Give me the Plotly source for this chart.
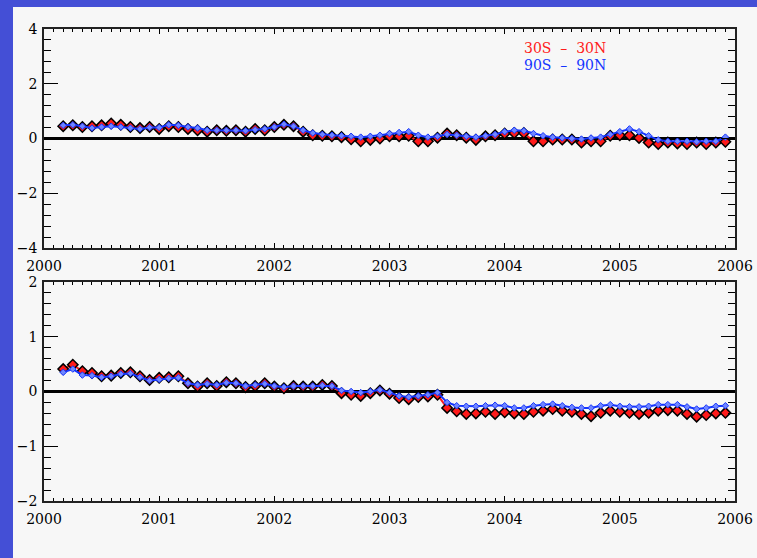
import plotly.graph_objects as go

# ---------------- data ----------------
years_start, years_end = 2000, 2006
# monthly samples, March 2000 .. December 2005 (month index from Jan 2000)
month_index = list(range(2, 72))
x_time = [2000 + m / 12 for m in month_index]

top_30s30n = [0.45, 0.48, 0.42, 0.45, 0.48, 0.55, 0.50, 0.42, 0.38, 0.42,
              0.35, 0.45, 0.42, 0.35, 0.30, 0.25, 0.30, 0.28, 0.30, 0.25, 0.35, 0.30,
              0.42, 0.50, 0.45, 0.25, 0.12, 0.10, 0.08, 0.05, -0.03, -0.10, -0.05, 0.00,
              0.08, 0.08, 0.10, -0.10, -0.10, 0.03, 0.18, 0.12, 0.03, -0.05, 0.08, 0.12,
              0.18, 0.20, 0.20, -0.10, -0.10, -0.04, -0.04, -0.04, -0.15, -0.10, -0.10, 0.10,
              0.12, 0.12, 0.02, -0.15, -0.20, -0.15, -0.18, -0.20, -0.15, -0.20, -0.15, -0.12]
top_90s90n = [0.48, 0.50, 0.45, 0.38, 0.42, 0.45, 0.42, 0.38, 0.35, 0.40,
              0.40, 0.50, 0.48, 0.42, 0.38, 0.30, 0.30, 0.30, 0.30, 0.28, 0.32, 0.35,
              0.42, 0.52, 0.45, 0.30, 0.20, 0.15, 0.12, 0.10, 0.08, 0.05, 0.08, 0.12,
              0.18, 0.22, 0.25, 0.12, 0.05, 0.08, 0.15, 0.12, 0.08, 0.05, 0.10, 0.15,
              0.25, 0.30, 0.28, 0.18, 0.10, 0.05, 0.02, 0.00, -0.02, 0.02, 0.05, 0.15,
              0.25, 0.35, 0.25, 0.10, -0.05, -0.10, -0.10, -0.10, -0.12, -0.10, -0.10, 0.05]

bot_30s30n = [0.41, 0.49, 0.37, 0.34, 0.28, 0.29, 0.34, 0.35, 0.28, 0.21,
              0.25, 0.26, 0.28, 0.15, 0.09, 0.15, 0.10, 0.17, 0.15, 0.08, 0.10, 0.15,
              0.09, 0.06, 0.10, 0.09, 0.09, 0.12, 0.10, -0.03, -0.06, -0.08, -0.03, 0.02,
              -0.04, -0.12, -0.14, -0.10, -0.09, -0.06, -0.30, -0.36, -0.41, -0.40, -0.37, -0.41,
              -0.38, -0.40, -0.41, -0.37, -0.35, -0.32, -0.35, -0.37, -0.41, -0.45, -0.39, -0.35,
              -0.37, -0.39, -0.41, -0.39, -0.35, -0.34, -0.35, -0.41, -0.46, -0.43, -0.40, -0.39]
bot_90s90n = [0.35, 0.41, 0.30, 0.29, 0.26, 0.28, 0.32, 0.33, 0.26, 0.20,
              0.22, 0.24, 0.25, 0.15, 0.12, 0.14, 0.12, 0.16, 0.15, 0.10, 0.12, 0.14,
              0.10, 0.08, 0.10, 0.10, 0.10, 0.11, 0.10, 0.02, 0.00, -0.02, 0.00, 0.03,
              -0.02, -0.08, -0.10, -0.08, -0.06, -0.02, -0.20, -0.26, -0.27, -0.27, -0.26, -0.25,
              -0.26, -0.30, -0.30, -0.26, -0.24, -0.23, -0.26, -0.29, -0.30, -0.30, -0.26, -0.24,
              -0.27, -0.28, -0.28, -0.27, -0.24, -0.24, -0.24, -0.28, -0.32, -0.30, -0.27, -0.26]

year_ticks = [2000, 2001, 2002, 2003, 2004, 2005, 2006]
top_yticks = [-4, -2, 0, 2, 4]
bot_yticks = [-2, -1, 0, 1, 2]
legend_labels = ["30S\u00a0\u00a0\u2013\u00a0\u00a030N", "90S\u00a0\u00a0\u2013\u00a0\u00a090N"]

# ---------------- style ----------------
W, H = 757, 558
RED = "#ff1a1a"
BLUE = "#1434ff"
BG = "#f7f7f7"
BORDER = "#444fd6"
FONT = dict(family="DejaVu Serif", size=14, color="black")

fig = go.Figure()


def add_series(x, y, xa, ya):
    fig.add_trace(go.Scatter(
        x=x, y=y[0], xaxis=xa, yaxis=ya, mode="lines+markers",
        line=dict(color=RED, width=2),
        marker=dict(symbol="diamond", size=8, color=RED,
                    line=dict(color="black", width=1.5)),
        showlegend=False))
    fig.add_trace(go.Scatter(
        x=x, y=y[1], xaxis=xa, yaxis=ya, mode="lines+markers",
        line=dict(color=BLUE, width=2),
        marker=dict(symbol="diamond", size=5, color="#6f86ff",
                    line=dict(color=BLUE, width=1)),
        showlegend=False))


add_series(x_time, (top_30s30n, top_90s90n), "x", "y")
add_series(x_time, (bot_30s30n, bot_90s90n), "x2", "y2")

xdom = [44 / W, 735 / W]
top_dom = [(H - 248) / H, (H - 29) / H]
bot_dom = [(H - 501) / H, (H - 282) / H]

xaxis_common = dict(
    range=[years_start, years_end], domain=xdom,
    tickvals=year_ticks, ticktext=[str(v) for v in year_ticks],
    ticks="inside", ticklen=5, tickwidth=1, tickcolor="black",
    minor=dict(dtick=1 / 12, tick0=2000, ticks="inside", ticklen=3,
               tickcolor="black", tickwidth=1, showgrid=False),
    showline=True, linecolor="#222", linewidth=1.5, mirror="ticks",
    showgrid=False, zeroline=False, tickfont=FONT, ticklabelstandoff=4,
    automargin=False,
)
yaxis_common = dict(
    ticks="inside", ticklen=14, tickwidth=1, tickcolor="black",
    showline=True, linecolor="#222", linewidth=1.5, mirror="ticks",
    showgrid=False, zeroline=True, zerolinecolor="black", zerolinewidth=2.5,
    tickfont=FONT, ticklabelstandoff=2, automargin=False,
)

fig.update_layout(
    width=W, height=H, autosize=False,
    margin=dict(l=0, r=0, t=0, b=0, pad=0, autoexpand=False),
    paper_bgcolor=BG, plot_bgcolor=BG,
    xaxis=dict(**xaxis_common, anchor="y"),
    xaxis2=dict(**xaxis_common, anchor="y2"),
    yaxis=dict(**yaxis_common, domain=top_dom, range=[-4, 4],
               tickvals=top_yticks,
               minor=dict(dtick=0.4, tick0=0, ticks="inside", ticklen=7,
                          tickcolor="black", showgrid=False),
               anchor="x"),
    yaxis2=dict(**yaxis_common, domain=bot_dom, range=[-2, 2],
                tickvals=bot_yticks,
                minor=dict(dtick=0.2, tick0=0, ticks="inside", ticklen=7,
                           tickcolor="black", showgrid=False),
                anchor="x2"),
    shapes=[
        dict(type="rect", xref="paper", yref="paper", x0=0, x1=13 / W, y0=0, y1=1,
             fillcolor=BORDER, line=dict(width=0), layer="below"),
        dict(type="rect", xref="paper", yref="paper", x0=0, x1=1, y0=1 - 7 / H, y1=1,
             fillcolor=BORDER, line=dict(width=0), layer="below"),
    ],
    annotations=[
        dict(text=legend_labels[0], xref="paper", yref="paper",
             x=608 / W, y=1 - 38 / H, showarrow=False,
             font=dict(family="DejaVu Serif", size=14, color=RED)),
        dict(text=legend_labels[1], xref="paper", yref="paper",
             x=608 / W, y=1 - 55 / H, showarrow=False,
             font=dict(family="DejaVu Serif", size=14, color=BLUE)),
    ],
)

fig.write_html("out.html")
